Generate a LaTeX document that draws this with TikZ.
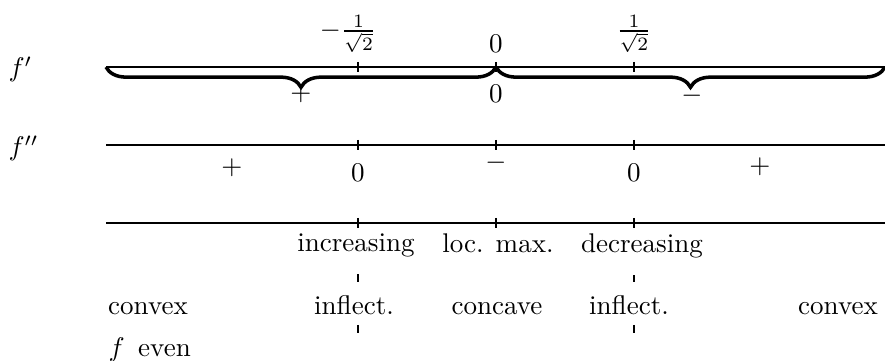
\documentclass[tikz,border=0pt]{standalone}
\usetikzlibrary{decorations.pathreplacing, calc}
\begin{document}
\begin{tikzpicture}[x=0.013cm, y=-0.013cm,
        axis/.style={line width=0.9pt},
        tck/.style={line width=0.4pt},
        sgn/.style={anchor=base},
        brc/.style={decorate, decoration={brace, mirror, amplitude=7.5pt}, line width=1.3pt},
        gap/.style={line width=0.6pt, shorten <=2.6pt, shorten >=1.6pt}]
    \useasboundingbox (0,0) rectangle (885,361);
    \node[anchor=base west] (d1) at (-1,77) {$f'$};
    \node[anchor=base west] (d2) at (-1,156) {$f''$};
    \foreach \y/\r in {67/la,145/lb,223/lc} {
        \coordinate (\r w) at (106,\y);
        \coordinate (\r e) at (885,\y);
        \draw[axis] (\r w) -- (\r e);
        \foreach \x in {358,496,634} \draw[tck] (\x,\y-5) -- (\x,\y+5);
    }
    % f'
    \coordinate (mid) at (496,67);
    \draw[brc] (law) -- (mid);
    \draw[brc] (mid) -- (lae);
    \node[above] (xa) at (348,62) {$-\frac{1}{\sqrt{2}}$};
    \node[above] (xb) at (496,62) {$0$};
    \node[above] (xc) at (634,62) {$\frac{1}{\sqrt{2}}$};
    \node[sgn] (pa) at (301,101) {$+$};
    \node[sgn] (za) at (496,103) {$0$};
    \node[sgn] (ma) at (692,103) {$-$};
    % f''
    \node[sgn] (pb) at (232,175) {$+$};
    \node[sgn] (zb) at (358,182) {$0$};
    \node[sgn] (mb) at (496,170) {$-$};
    \node[sgn] (zc) at (634,182) {$0$};
    \node[sgn] (pc) at (760,174) {$+$};
    % f
    \node[sgn] (incr) at (356,252) {increasing};
    \node[sgn] (lmax) at (498,253) {loc. max.};
    \node[sgn] (decr) at (642,253) {decreasing};
    \node[sgn] (cva) at (148,315) {convex};
    \node[sgn] (ifa) at (354,315) {inflect.};
    \node[sgn] (ccv) at (497,315) {concave};
    \node[sgn] (ifb) at (629,315) {inflect.};
    \node[sgn] (cvb) at (838,315) {convex};
    \node[anchor=base west] (ev) at (99,357) {$f$\, even};
    \coordinate (ea) at (358,333);
    \coordinate (eb) at (634,333);
    \draw[gap] (incr.south -| ea) -- (ifa.north -| ea);
    \draw[gap] (decr.south -| eb) -- (ifb.north -| eb);
    \draw[gap, shorten <=0pt, shorten >=0pt] (ifa.south -| ea) -- (ea);
    \draw[gap, shorten <=0pt, shorten >=0pt] (ifb.south -| eb) -- (eb);
\end{tikzpicture}
\end{document}
